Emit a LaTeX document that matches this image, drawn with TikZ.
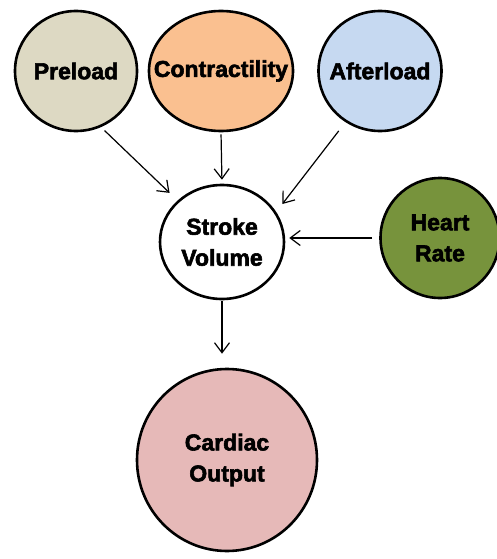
\documentclass[tikz,border=0pt]{standalone}
\usepackage{fontspec}
\setmainfont[BoldFeatures={FakeBold=2.5}]{Liberation Sans}
\usetikzlibrary{%
    arrows.meta,
    shapes.geometric
}
\definecolor{preloadfill}{HTML}{DDD9C3}
\definecolor{contractfill}{HTML}{FAC090}
\definecolor{afterloadfill}{HTML}{C6D9F1}
\definecolor{heartfill}{HTML}{77933C}
\definecolor{outputfill}{HTML}{E6B9B8}
\tikzset{headarrow/.style = {-{Straight Barb[length=10pt,width=15pt,line width=1.2pt]}, line width=1.2pt}}
\tikzset{bubble/.style = {ellipse, draw, line width=2.6pt, inner xsep=-25pt, inner ysep=0pt,
                          align=center, font=\fontsize{23}{31}\selectfont\bfseries}}

\begin{document}
\begin{tikzpicture}[x=1pt,y=-1pt]
    \useasboundingbox (0,0) rectangle (497,559);
    \node (pre) at (76,71)   [bubble, fill=preloadfill,   minimum width=122pt, minimum height=120pt] {Preload};
    \node (con) at (221,71)  [bubble, fill=contractfill,  minimum width=144pt, minimum height=120pt] {Contractility};
    \node (aft) at (380,71)  [bubble, fill=afterloadfill, minimum width=123pt, minimum height=120pt] {Afterload};
    \node (sv)  at (222,242) [bubble, fill=white,         minimum width=124pt, minimum height=114pt] {Stroke\\Volume};
    \node (hr)  at (440,238) [bubble, fill=heartfill,     minimum width=119pt, minimum height=120pt] {Heart\\Rate};
    \node (co)  at (227,460) [bubble, fill=outputfill,    minimum width=180pt, minimum height=182pt] {Cardiac\\Output};

    \foreach \Source/\Target/\Start/\End in {%
        pre.-66/sv.137/5/11,
        con.south/sv.north/2/4,
        aft.-124/sv.29/11/10%
    }
        \draw[headarrow, shorten <=\Start pt, shorten >=\End pt] (\Source) -- (\Target);
    \draw[headarrow, shorten <=7pt, shorten >=4pt] (hr.west) -- (sv.east |- hr.west);
    \draw[headarrow, shorten <=1pt, shorten >=14pt] (sv.south) -- (sv.south |- co.north);
\end{tikzpicture}
\end{document}
